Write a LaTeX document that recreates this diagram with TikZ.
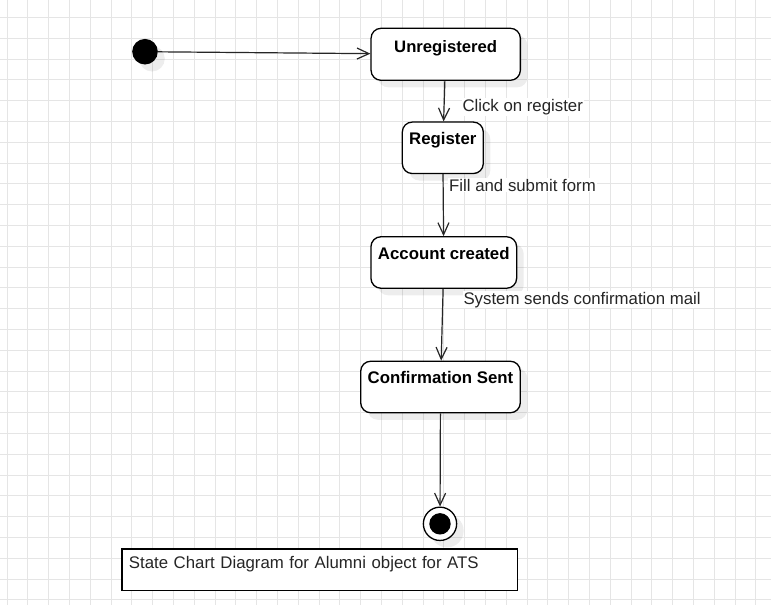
\documentclass[tikz,border=0pt]{standalone}
\usepackage{fontspec}
\usepackage{graphicx}
\setmainfont{Liberation Sans}
\usetikzlibrary{arrows.meta,shadows}

\begin{document}
\begin{tikzpicture}[x=1pt,y=-1pt,
        gridline/.style={line width=1pt,black!10},
        shade/.style={drop shadow={shadow xshift=7pt,shadow yshift=-7pt,fill=black,opacity=0.07}},
        state/.style={rectangle,rounded corners=10pt,draw=black,line width=1.3pt,fill=white,shade,
                inner xsep=0pt,inner ysep=0pt,text height=22.5pt,text depth=29pt,
                font=\fontsize{16.8}{20}\selectfont\bfseries},
        trans/.style={line width=1.2pt,black!85,-{Straight Barb[length=12pt,width=11pt,line width=1.2pt]}},
        lbl/.style={fill=white,inner sep=1pt,anchor=base west,text=black!85,font=\fontsize{16.8}{20}\selectfont}]
        \useasboundingbox (0,0) rectangle (771,605);
        \fill[white] (0,0) rectangle (771,605);

        % grid
        \foreach \gx in {0,...,36}
                \draw[gridline] ({7+20.8*\gx},0)--({7+20.8*\gx},605);
        \foreach \gy in {0,...,28}
                \draw[gridline] (0,{17.5+20.8*\gy})--(771,{17.5+20.8*\gy});

        \coordinate (I) at (145,51.7);
        \coordinate (U) at (445.7,54.3);
        \coordinate (R) at (442.8,147.8);
        \coordinate (AC) at (443.8,262.5);
        \coordinate (CS) at (440.5,387);
        \coordinate (F) at (440,523.8);

        \node[circle,fill=black,minimum size=25.6pt,inner sep=0pt,shade] (init) at (I) {};
        \node[state,minimum width=149.3pt,text height=24pt,text depth=28pt] (unreg) at (U)
                {\resizebox{103pt}{12pt}{Unregistered}};
        \node[state,minimum width=81pt] (reg) at (R) {Register};
        \node[state,minimum width=145.7pt] (acc) at (AC) {Account created};
        \node[state,minimum width=159.6pt] (conf) at (CS) {Confirmation Sent};
        \node[circle,draw=black,line width=1.3pt,fill=white,minimum size=33.3pt,inner sep=0pt,shade] (final) at (F) {};
        \node[circle,fill=black,minimum size=21.4pt,inner sep=0pt] (finaldot) at (F) {};

        \draw[trans] (init)--(unreg);
        \draw[trans] (unreg)--(reg);
        \draw[trans] (reg)--(acc);
        \draw[trans] (acc)--(conf);
        \draw[trans] (conf)--(final);

        \node[lbl] (lclick) at (461.3,111.5) {Click on register};
        \node[lbl] (lfill) at (448,191) {Fill and submit form};
        \node[lbl] (lsys) at (462.3,304) {System sends confirmation mail};

        % caption
        \node[draw=black,line width=1.2pt,fill=white,anchor=north west,inner xsep=7pt,inner ysep=0pt,
                text width=381.4pt,align=left,text height=19.7pt,text depth=22pt,
                text=black!85,font=\fontsize{16.8}{20}\selectfont] (caption) at (121.3,548.3)
                {State Chart Diagram for Alumni object for ATS};
\end{tikzpicture}
\end{document}
